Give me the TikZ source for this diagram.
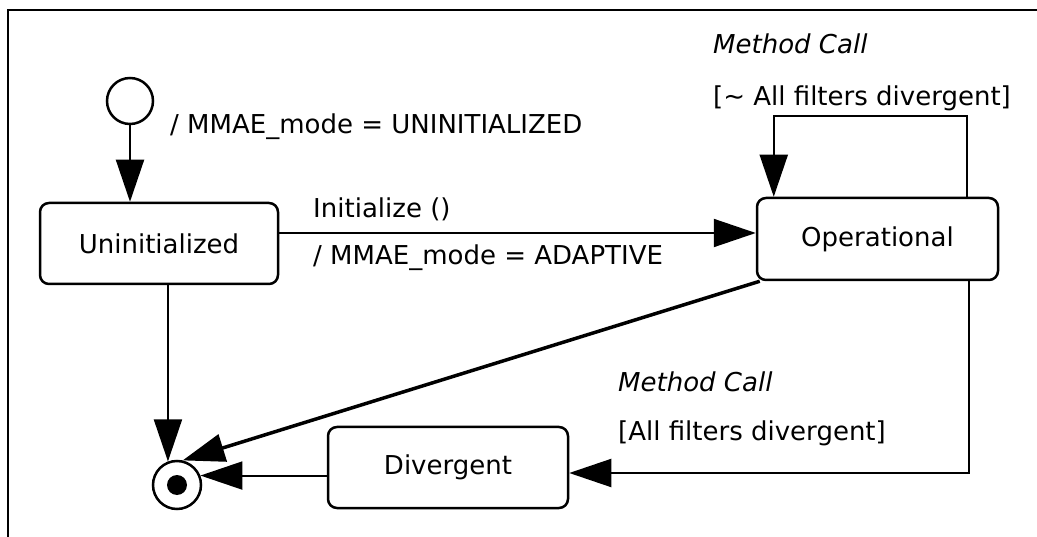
\documentclass[tikz,border=0pt]{standalone}
\usepackage{fontspec}
\setmainfont{DejaVu Sans}
\usetikzlibrary{arrows.meta,calc}
\begin{document}
\begin{tikzpicture}[x=1pt,y=-1pt,
  txt/.style={font=\fontsize{26}{30}\selectfont},
  itxt/.style={font=\fontsize{26}{30}\selectfont\itshape},
  state/.style={draw, line width=2.5pt, rounded corners=9pt, inner sep=0pt, txt},
  lbl/.style={anchor=base west, inner sep=0pt},
  arr/.style={line width=2pt, -{Triangle[length=42pt,width=28pt]}},
]
\useasboundingbox (0,0) rectangle (1037,537);
% frame
\draw[line width=2.5pt] (8,537) -- (8,10) -- (1037,10);

% states
\node[state, minimum width=238pt, minimum height=81pt] (uninit) at (159,243.5) {Uninitialized};
\node[state, minimum width=241pt, minimum height=82pt] (oper) at (877.5,239) {Operational};
\node[state, minimum width=240pt, minimum height=81pt] (div) at (448,467.5) {Divergent};
\node[circle, draw, line width=2.5pt, minimum size=46pt, inner sep=0pt] (init) at (130,101) {};
\node[circle, draw, line width=2.5pt, minimum size=48pt, inner sep=0pt] (final) at (177,485) {};
\node[circle, fill, minimum size=20pt, inner sep=0pt] (fdot) at (final.center) {};

% transitions
\draw[arr] (init.south) -- (init.south |- uninit.north);
\draw[arr] ($(uninit.east)+(0,-10.5)$) -- ($(uninit.east -| oper.west)+(0,-10.5)$);
\draw[arr] ($(oper.north east)+(-32,0)$) -- ++(0,-81) -| ($(oper.north west)+(18,0)$);
\draw[arr] ($(oper.south east)+(-30,0)$) |- ($(div.east)+(0,5.5)$);
\draw[arr] (div.west |- final.22) -- (final.22);
\draw[arr] (uninit.south -| final.111) -- (final.111);
\draw[arr, line width=3.5pt] ($(oper.south west)+(4,0)$) -- (final.77);

% labels
\node[lbl, txt] (l1) at (170,134) {/ MMAE\_mode = UNINITIALIZED};
\node[lbl, txt] (l2) at (313,218) {Initialize ()};
\node[lbl, txt] (l3) at (313,265) {/ MMAE\_mode = ADAPTIVE};
\node[lbl, itxt] (l4) at (713,54) {Method Call};
\node[lbl, txt] (l5) at (713,106) {[\textasciitilde{} All filters divergent]};
\node[lbl, itxt] (l6) at (618,392) {Method Call};
\node[lbl, txt] (l7) at (618,440) {[All filters divergent]};
\end{tikzpicture}
\end{document}
